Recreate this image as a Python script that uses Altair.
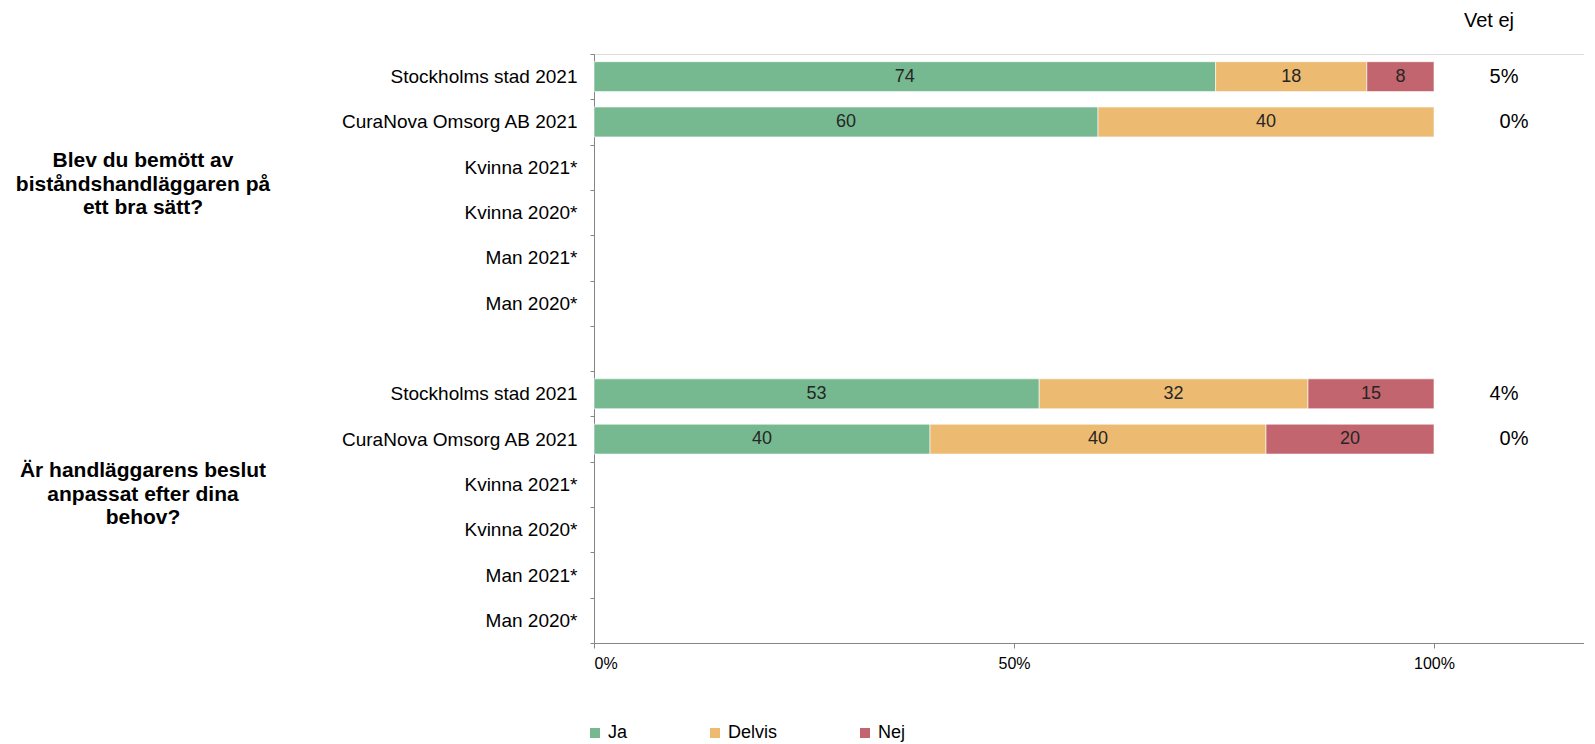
import altair as alt
import pandas as pd

# ---- data ----
row_labels = ["Stockholms stad 2021", "CuraNova Omsorg AB 2021", "Kvinna 2021*",
              "Kvinna 2020*", "Man 2021*", "Man 2020*"]
answers = ["Ja", "Delvis", "Nej"]
colors = ["#76B990", "#ECBB71", "#C2656E"]

ja_q1 = [74, 60]
delvis_q1 = [18, 40]
nej_q1 = [8, 0]
vetej_q1 = [5, 0]

ja_q2 = [53, 40]
delvis_q2 = [32, 40]
nej_q2 = [15, 20]
vetej_q2 = [4, 0]

question_1 = ["Blev du bemött av", "biståndshandläggaren på", "ett bra sätt?"]
question_2 = ["Är handläggarens beslut", "anpassat efter dina", "behov?"]
vetej_header = "Vet ej"
x_ticks = [0, 0.5, 1.0]

# ---- build tables ----
keys = [f"{r}|1" for r in row_labels] + [" |0"] + [f"{r}|2" for r in row_labels]

bar_rows = []
vet_rows = []
for g, (ja, de, ne, ve) in {"1": (ja_q1, delvis_q1, nej_q1, vetej_q1),
                            "2": (ja_q2, delvis_q2, nej_q2, vetej_q2)}.items():
    for i in range(len(ja)):
        key = f"{row_labels[i]}|{g}"
        for o, (ans, vals) in enumerate(zip(answers, [ja, de, ne])):
            if vals[i] > 0:
                bar_rows.append({"key": key, "answer": ans, "value": vals[i], "order": o})
        vet_rows.append({"key": key, "vetej": ve[i]})

bars_df = pd.DataFrame(bar_rows)
vet_df = pd.DataFrame(vet_rows)

FONT = "Liberation Sans"

y_enc = alt.Y(
    "key:N",
    scale=alt.Scale(domain=keys, paddingInner=0, paddingOuter=0),
    axis=alt.Axis(
        title=None, labelExpr="split(datum.label, '|')[0]", tickBand="extent",
        tickSize=4, labelPadding=13, labelFontSize=19, labelFont=FONT, labelLimit=400,
        labelColor="#000000", domainColor="#868686", tickColor="#868686", grid=False,
    ),
)

base = alt.Chart(bars_df).transform_stack(
    stack="value", groupby=["key"], as_=["x0", "x1"],
    sort=[alt.SortField("order", order="ascending")], offset="normalize",
).transform_calculate(mid="(datum.x0 + datum.x1) / 2")

x_scale = alt.Scale(domain=[0, 990 / 840], nice=False, zero=False)

bars = base.mark_bar(height={"band": 0.66}, stroke="#ffffff", strokeWidth=0.6).encode(
    x=alt.X("x0:Q", scale=x_scale,
            axis=alt.Axis(title=None, values=x_ticks, format=".0%", tickSize=5,
                          labelPadding=7, labelFontSize=16, labelFont=FONT,
                          labelColor="#000000", domainColor="#868686",
                          tickColor="#868686", grid=False)),
    x2="x1:Q",
    y=y_enc,
    color=alt.Color("answer:N", scale=alt.Scale(domain=answers, range=colors),
                    legend=alt.Legend(orient="none", legendX=-8, legendY=670,
                                      direction="horizontal", title=None,
                                      symbolType="square", symbolSize=100,
                                      symbolStrokeWidth=0, labelFontSize=18,
                                      labelFont=FONT, labelColor="#000000",
                                      labelOffset=4, columnPadding=78, padding=0)),
    order=alt.Order("order:Q"),
)

labels = base.mark_text(fontSize=18, font=FONT, color="#262626").encode(
    x=alt.X("mid:Q", scale=x_scale),
    y=alt.Y("key:N"),
    text=alt.Text("value:Q", format=".0f"),
)

vet_base = alt.Chart(vet_df).transform_calculate(lbl="datum.vetej + '%'")
vet_nonzero = vet_base.transform_filter("datum.vetej > 0").mark_text(
    fontSize=20, font=FONT, color="#000000", align="center"
).encode(x=alt.value(910), y=alt.Y("key:N"), text="lbl:N")
vet_zero = vet_base.transform_filter("datum.vetej == 0").mark_text(
    fontSize=20, font=FONT, color="#000000", align="center"
).encode(x=alt.value(920), y=alt.Y("key:N"), text="lbl:N")

vet_head = alt.Chart(pd.DataFrame({"t": [vetej_header]})).mark_text(
    fontSize=20, font=FONT, color="#000000", align="center", baseline="middle"
).encode(x=alt.value(895), y=alt.value(-33), text="t:N")

q1 = alt.Chart(pd.DataFrame({"t": [question_1]})).mark_text(
    fontSize=21, font=FONT, fontWeight="bold", color="#000000", align="center",
    baseline="middle", lineHeight=23.5
).encode(x=alt.value(-451), y=alt.value(107), text="t")

q2 = alt.Chart(pd.DataFrame({"t": [question_2]})).mark_text(
    fontSize=21, font=FONT, fontWeight="bold", color="#000000", align="center",
    baseline="middle", lineHeight=23.5
).encode(x=alt.value(-451), y=alt.value(417), text="t")

chart = alt.layer(bars, labels, vet_nonzero, vet_zero, vet_head, q1, q2).properties(
    width=990, height=589,
    autosize=alt.AutoSizeParams(type="none"),
    padding={"left": 586, "top": 46, "right": 0, "bottom": 110},
).configure_view(stroke=None).configure(background="#ffffff")

chart.save("out.html", embed_options={"renderer": "svg", "actions": False})
